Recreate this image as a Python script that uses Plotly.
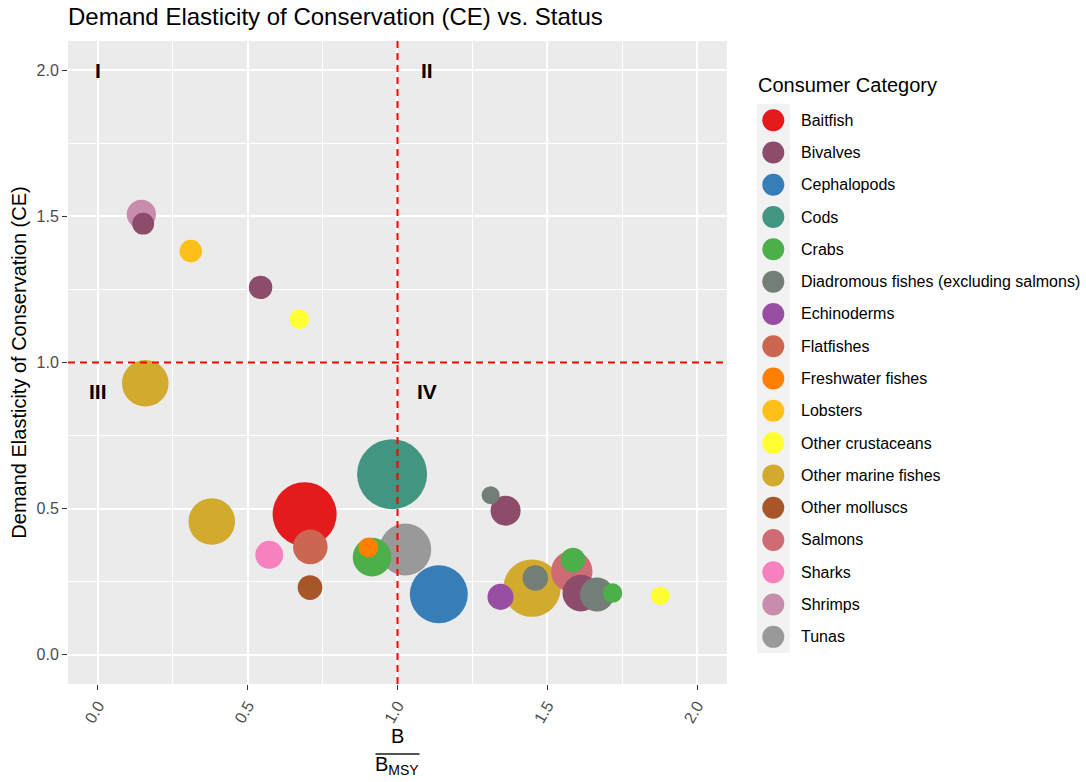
import plotly.graph_objects as go

# Consumer categories and their colours (Set1 ramp, 17 steps)
categories = [
    "Baitfish", "Bivalves", "Cephalopods", "Cods", "Crabs",
    "Diadromous fishes (excluding salmons)", "Echinoderms", "Flatfishes",
    "Freshwater fishes", "Lobsters", "Other crustaceans", "Other marine fishes",
    "Other molluscs", "Salmons", "Sharks", "Shrimps", "Tunas",
]
palette = [
    "#E41A1C", "#8D4C6A", "#377EB8", "#429681", "#4DAF4A", "#727E76",
    "#984EA3", "#CB6651", "#FF7F00", "#FFBF19", "#FFFF33", "#D2AA2D",
    "#A65628", "#CE6B73", "#F781BF", "#C88DAC", "#999999",
]

# Stocks, listed in drawing order
stock_category = [
    "Shrimps", "Bivalves", "Lobsters", "Bivalves", "Other crustaceans",
    "Other marine fishes", "Other marine fishes", "Baitfish", "Flatfishes",
    "Sharks", "Other molluscs", "Cods", "Tunas", "Crabs", "Freshwater fishes",
    "Cephalopods", "Bivalves", "Diadromous fishes (excluding salmons)",
    "Other marine fishes", "Echinoderms", "Diadromous fishes (excluding salmons)",
    "Salmons", "Crabs", "Bivalves", "Diadromous fishes (excluding salmons)",
    "Crabs", "Other crustaceans",
]
b_over_bmsy = [
    0.145, 0.151, 0.310, 0.543, 0.672,
    0.158, 0.380, 0.690, 0.709,
    0.572, 0.708, 0.982, 1.026, 0.915, 0.903,
    1.138, 1.361, 1.311,
    1.449, 1.344, 1.460,
    1.582, 1.586, 1.612, 1.666,
    1.718, 1.877,
]
ce_value = [
    1.507, 1.475, 1.381, 1.257, 1.148,
    0.929, 0.456, 0.481, 0.369,
    0.342, 0.230, 0.618, 0.360, 0.334, 0.367,
    0.207, 0.493, 0.546,
    0.228, 0.198, 0.263,
    0.285, 0.324, 0.211, 0.206,
    0.211, 0.202,
]
stock_size = [
    8.6, 4.8, 5.1, 5.5, 3.8,
    21.7, 21.7, 41.0, 12.0,
    7.8, 6.1, 49.0, 27.0, 14.9, 4.0,
    33.6, 9.0, 3.2,
    33.0, 6.8, 6.5,
    17.1, 6.1, 13.4, 11.6,
    3.8, 3.5,
]

# Quadrant labels
quad_text = ["I", "II", "III", "IV"]
quad_x = [0.0, 1.1, 0.0, 1.1]
quad_y = [2.0, 2.0, 0.9, 0.9]

# Reference levels
bmsy_ref = 1.0
ce_ref = 1.0

axis_ticks = [0.0, 0.5, 1.0, 1.5, 2.0]

FONT = "Liberation Sans, Arial, Helvetica, sans-serif"
color_of = dict(zip(categories, palette))

fig = go.Figure()

fig.add_trace(go.Scatter(
    x=b_over_bmsy, y=ce_value, mode="markers",
    marker=dict(
        size=stock_size, sizemode="area", sizeref=0.02,
        color=[color_of[c] for c in stock_category],
        line=dict(width=0), opacity=1,
    ),
    text=stock_category, hoverinfo="text+x+y",
    showlegend=False, xaxis="x", yaxis="y",
))

# Legend drawn as its own small panel
key_x = 16.3
label_x = 42
key_index = list(range(len(categories)))
fig.add_trace(go.Scatter(
    x=[key_x] * len(categories), y=key_index, mode="markers",
    marker=dict(size=22, color=palette, line=dict(width=0)),
    hoverinfo="skip", showlegend=False, xaxis="x2", yaxis="y2",
))

annotations = []
for i, name in enumerate(categories):
    annotations.append(dict(
        x=label_x, y=i, xref="x2", yref="y2", text=name, showarrow=False,
        xanchor="left", yanchor="middle",
        font=dict(family=FONT, size=16, color="#000000"),
    ))
annotations.append(dict(
    x=0.6758, y=0.9316, xref="paper", yref="paper", text="Consumer Category",
    showarrow=False, xanchor="left", yanchor="middle",
    font=dict(family=FONT, size=20, color="#000000"),
))
for t, qx, qy in zip(quad_text, quad_x, quad_y):
    annotations.append(dict(
        x=qx, y=qy, xref="x", yref="y", text=f"<b>{t}</b>", showarrow=False,
        xanchor="center", yanchor="middle",
        font=dict(family=FONT, size=21, color="#000000"),
    ))
# x-axis title as a fraction B / B_MSY
annotations.append(dict(
    x=0.5, y=-0.0809, xref="x domain", yref="paper", text="B", showarrow=False,
    xanchor="center", yanchor="middle",
    font=dict(family=FONT, size=20, color="#000000"),
))
annotations.append(dict(
    x=0.5, y=-0.1275, xref="x domain", yref="paper", text="B<sub>MSY</sub>",
    showarrow=False, xanchor="center", yanchor="middle",
    font=dict(family=FONT, size=20, color="#000000"),
))

shapes = [
    # panel background
    dict(type="rect", xref="x domain", yref="y domain", x0=0, x1=1, y0=0, y1=1,
         fillcolor="#EBEBEB", line=dict(width=0), layer="below"),
    # legend key background
    dict(type="rect", xref="x2", yref="y2", x0=0, x1=33, y0=-0.5, y1=len(categories) - 0.5,
         fillcolor="#F2F2F2", line=dict(width=0), layer="below"),
    # reference lines
    dict(type="line", xref="x", yref="y domain", x0=bmsy_ref, x1=bmsy_ref, y0=0, y1=1,
         line=dict(color="#FF0000", width=2, dash="7px,5px"), layer="above"),
    dict(type="line", xref="x domain", yref="y", x0=0, x1=1, y0=ce_ref, y1=ce_ref,
         line=dict(color="#FF0000", width=2, dash="7px,5px"), layer="above"),
    # fraction bar of the x-axis title
    dict(type="line", xref="x domain", yref="paper", x0=0.4666, x1=0.5334,
         y0=-0.1089, y1=-0.1089, line=dict(color="#1A1A1A", width=1.3)),
]

axis_common = dict(
    range=[-0.1, 2.1], tickvals=axis_ticks, tickformat=".1f",
    ticks="outside", ticklen=5, tickwidth=1.4, tickcolor="#333333",
    tickfont=dict(family=FONT, size=16, color="#4D4D4D"),
    showgrid=True, gridcolor="#FFFFFF", gridwidth=1.6,
    minor=dict(tick0=0.25, dtick=0.5, showgrid=True, gridcolor="#FFFFFF",
               gridwidth=0.8, ticks=""),
    zeroline=False, showline=False, automargin=False,
)

fig.update_layout(
    width=1086, height=782,
    margin=dict(l=68, r=0, t=41, b=98),
    paper_bgcolor="#FFFFFF", plot_bgcolor="rgba(0,0,0,0)",
    title=dict(
        text="Demand Elasticity of Conservation (CE) vs. Status",
        x=0, xref="paper", xanchor="left", y=1 - 17 / 782, yanchor="middle",
        font=dict(family=FONT, size=24, color="#000000"),
    ),
    xaxis=dict(domain=[0, 0.6473], tickangle=-60, **axis_common),
    yaxis=dict(
        domain=[0, 1],
        title=dict(text="Demand Elasticity of Conservation (CE)",
                   font=dict(family=FONT, size=20, color="#000000"), standoff=4),
        **axis_common,
    ),
    xaxis2=dict(domain=[0.6768, 1.0], range=[0, 329], visible=False, anchor="y2"),
    yaxis2=dict(domain=[0.0482, 0.902], range=[len(categories) - 0.5, -0.5],
                visible=False, anchor="x2"),
    annotations=annotations,
    shapes=shapes,
    showlegend=False,
    hovermode="closest",
)

fig.write_html("out.html")
